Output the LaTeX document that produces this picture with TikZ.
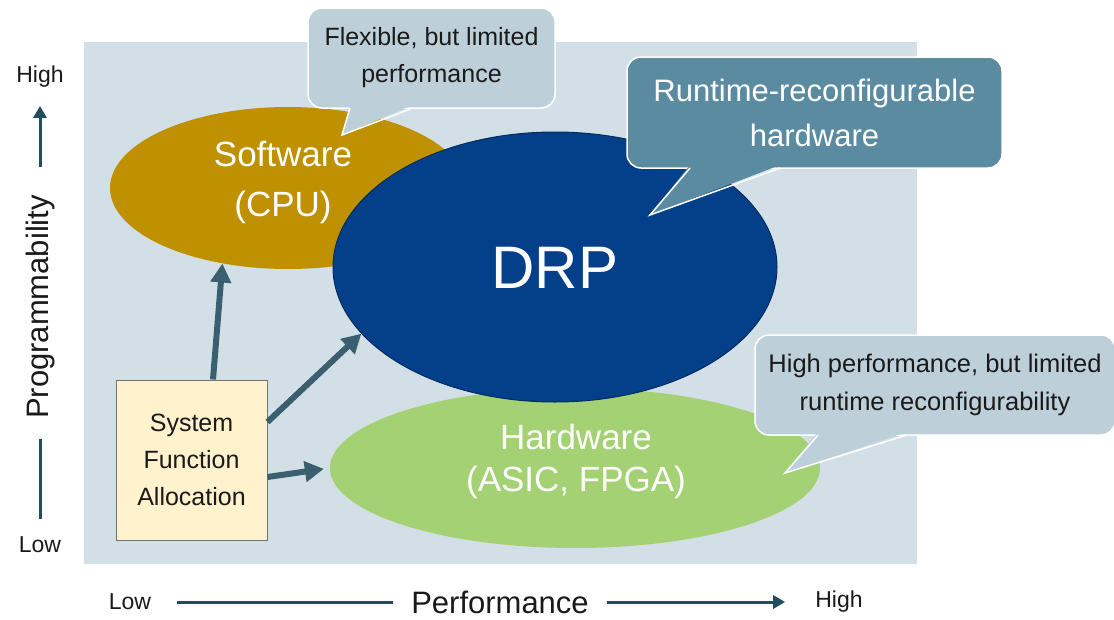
\documentclass[tikz,border=0pt]{standalone}
\usepackage{fontspec}
\setmainfont{Liberation Sans}
\usetikzlibrary{shapes.geometric,arrows.meta,calc}
\definecolor{bgc}{HTML}{D3DFE6}
\definecolor{gold}{HTML}{BF9000}
\definecolor{drpblue}{HTML}{043F8A}
\definecolor{hwgreen}{HTML}{A5D175}
\definecolor{calllight}{HTML}{BDD0DA}
\definecolor{callteal}{HTML}{5A8BA0}
\definecolor{boxfill}{HTML}{FFF2CC}
\definecolor{arrowc}{HTML}{3A5F6F}
\definecolor{axisc}{HTML}{1F4E60}
\definecolor{txtdark}{HTML}{1A1A1A}
\tikzset{
  ell/.style={ellipse, inner sep=0pt},
  calloutbox/.style={rounded corners=14pt, draw=white, line width=1.5pt, align=center, inner sep=0pt},
  flow/.style={draw=arrowc, line width=6pt, -{Triangle[length=19pt,width=20pt]}},
  axis/.style={draw=axisc, line width=3pt},
  axisarrow/.style={axis, -{Triangle[length=12pt,width=13pt]}},
  axtext/.style={text=txtdark, inner sep=0pt, font=\fontsize{23}{27}\selectfont},
  whitetext/.style={text=white, align=center}
}
\begin{document}
\begin{tikzpicture}[x=1pt,y=-1pt]
\useasboundingbox (0,0) rectangle (1114,619);
% background panel
\fill[bgc] (84,42) rectangle (917,564);
% ellipses
\node[ell, fill=gold, minimum width=356pt, minimum height=162pt] (sw) at (288,188) {};
\node[ell, fill=hwgreen, minimum width=490pt, minimum height=160pt] (hw) at (575,468) {};
\node[ell, fill=drpblue, draw=drpblue!70!black, line width=1pt, minimum width=444pt, minimum height=270pt] (drp) at (555,267) {};
\node[whitetext, font=\fontsize{35}{50}\selectfont] (swt) at (283,182) {Software\\(CPU)};
\node[whitetext, font=\fontsize{35}{42}\selectfont] (hwt) at (576,461) {Hardware\\(ASIC, FPGA)};
\node[whitetext, font=\fontsize{60}{70}\selectfont] (drpt) at (555,268) {DRP};
% callout 1
\node[calloutbox, fill=calllight, text=txtdark, minimum width=247pt, minimum height=100pt,
      font=\fontsize{25}{37}\selectfont] (c1) at (431.5,58) {Flexible, but limited\\performance};
\fill[calllight] (350,105) -- (342,135) -- (413,105) -- cycle;
\draw[white, line width=1.5pt, line join=miter] (350,108) -- (342,135) -- (413,108);
% callout 2
\node[calloutbox, fill=callteal, text=white, minimum width=375pt, minimum height=111pt,
      font=\fontsize{31}{45}\selectfont] (c2) at (814.5,112.5) {Runtime-reconfigurable\\hardware};
\fill[callteal] (690,165) -- (650,215) -- (780,165) -- cycle;
\draw[white, line width=1.5pt] (690,168) -- (650,215) -- (780,168);
% callout 3
\node[calloutbox, fill=calllight, text=txtdark, minimum width=360pt, minimum height=100pt,
      font=\fontsize{25.5}{38}\selectfont] (c3) at (935,385) {High performance, but limited\\runtime reconfigurability};
\fill[calllight] (818,432) -- (785,473) -- (907,432) -- cycle;
\draw[white, line width=1.5pt] (818,435) -- (785,473) -- (907,435);
% system function allocation box
\node[draw=black!55, line width=1pt, fill=boxfill, text=txtdark, align=center,
      minimum width=151pt, minimum height=160pt, inner sep=0pt,
      font=\fontsize{25}{37}\selectfont] (sfa) at (191.5,460) {System\\Function\\Allocation};
% flow arrows
\draw[flow] ([xshift=21.5pt]sfa.north) -- (sw.229);
\draw[flow] ([yshift=38pt]sfa.east) -- (drp.199);
\draw[flow, shorten >=6pt] ([yshift=-17pt]sfa.east) -- (hw.west);
% vertical axis
\node[axtext] (yhigh) at (40,77) {High};
\node[axtext] (ylow) at (40,545) {Low};
\node[text=txtdark, rotate=90, inner sep=0pt, font=\fontsize{31}{36}\selectfont] (ylab) at (40,307) {Programmability};
\draw[axisarrow] ([yshift=28pt]ylab.east) -- ([yshift=-18pt]yhigh.south);
\draw[axis] ([yshift=-20pt]ylab.west) -- ([yshift=18pt]ylow.north);
% horizontal axis
\node[axtext] (xlow) at (130,602) {Low};
\node[axtext] (xhigh) at (839,602) {High};
\node[text=txtdark, inner sep=0pt, font=\fontsize{31}{36}\selectfont] (xlab) at (500,602) {Performance};
\draw[axis] ([xshift=26pt]xlow.east) -- ([xshift=-18pt]xlab.west);
\draw[axisarrow] ([xshift=18pt]xlab.east) -- ([xshift=-30pt]xhigh.west);
\end{tikzpicture}
\end{document}
